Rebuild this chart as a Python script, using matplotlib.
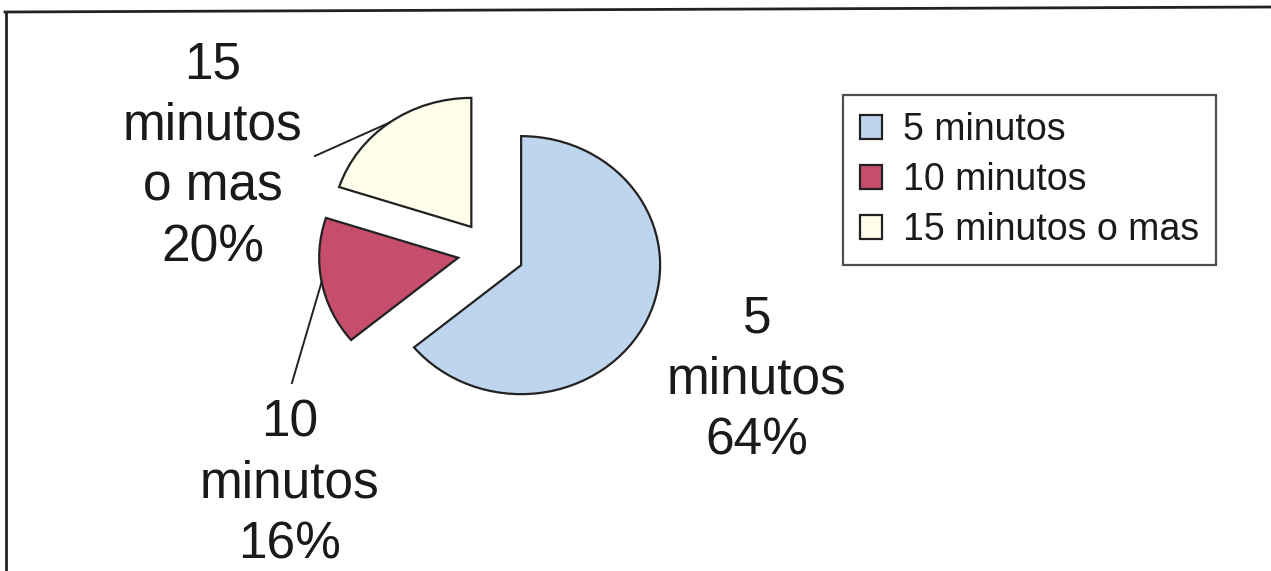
import numpy as np
import matplotlib
matplotlib.use("Agg")
import matplotlib.pyplot as plt
from matplotlib.lines import Line2D

categorias = ["5 minutos", "10 minutos", "15 minutos o mas"]
porcentajes = [64, 16, 20]
etiquetas = ["5\nminutos\n64%", "10\nminutos\n16%", "15\nminutos\no mas\n20%"]
colores = ["#BFD5EE", "#C64D6B", "#FEFEEB"]

plt.rcParams["font.family"] = ["Liberation Sans", "DejaVu Sans"]

fig = plt.figure(figsize=(12.71, 5.71), dpi=100)
ax = fig.add_axes([0, 0, 1, 1])
ax.set_axis_off()

wedges, _ = ax.pie(porcentajes, colors=colores, startangle=90, counterclock=False,
                   explode=[0.24] * 3, radius=1.0,
                   wedgeprops=dict(edgecolor="#222222", linewidth=1.6))
ax.set_aspect("auto")
ax.set_xlim(-3.532, 5.612)
ax.set_ylim(-2.473, 1.953)

# label text positions and leader ends
pos_texto = [(1.914, -0.99), (-1.446, -1.80), (-2.0, 0.74)]
fin_linea = [None, (-1.432, -1.016), (-1.266, 0.744)]

for w, txt, p, fin in zip(wedges, etiquetas, pos_texto, fin_linea):
    ax.text(p[0], p[1], txt, ha="center", va="center", fontsize=37,
            linespacing=1.32, color="#1a1a1a")
    if fin is not None:
        ang = np.deg2rad((w.theta1 + w.theta2) / 2)
        cx, cy = w.center
        ax.plot([cx + np.cos(ang), fin[0]], [cy + np.sin(ang), fin[1]],
                color="#222222", lw=1.4)

leg = fig.legend(wedges, categorias, loc="upper left",
                 bbox_to_anchor=(843 / 1271, 1 - 95 / 571),
                 fontsize=27, frameon=True, fancybox=False,
                 handlelength=0.6, handleheight=0.6, handletextpad=0.55,
                 labelspacing=0.38, borderpad=0.45, borderaxespad=0)
leg.get_frame().set_edgecolor("#222222")
leg.get_frame().set_linewidth(1.6)
for t in leg.get_texts():
    t.set_color("#1a1a1a")

# outer frame (top and left)
fig.add_artist(Line2D([5 / 1271, 1.0], [1 - 12 / 571, 1 - 7 / 571],
                      transform=fig.transFigure, color="#222222", lw=2))
fig.add_artist(Line2D([6 / 1271, 6 / 1271], [1 - 12 / 571, 0],
                      transform=fig.transFigure, color="#222222", lw=2))

fig.savefig("out.png", dpi=100, facecolor="white")
